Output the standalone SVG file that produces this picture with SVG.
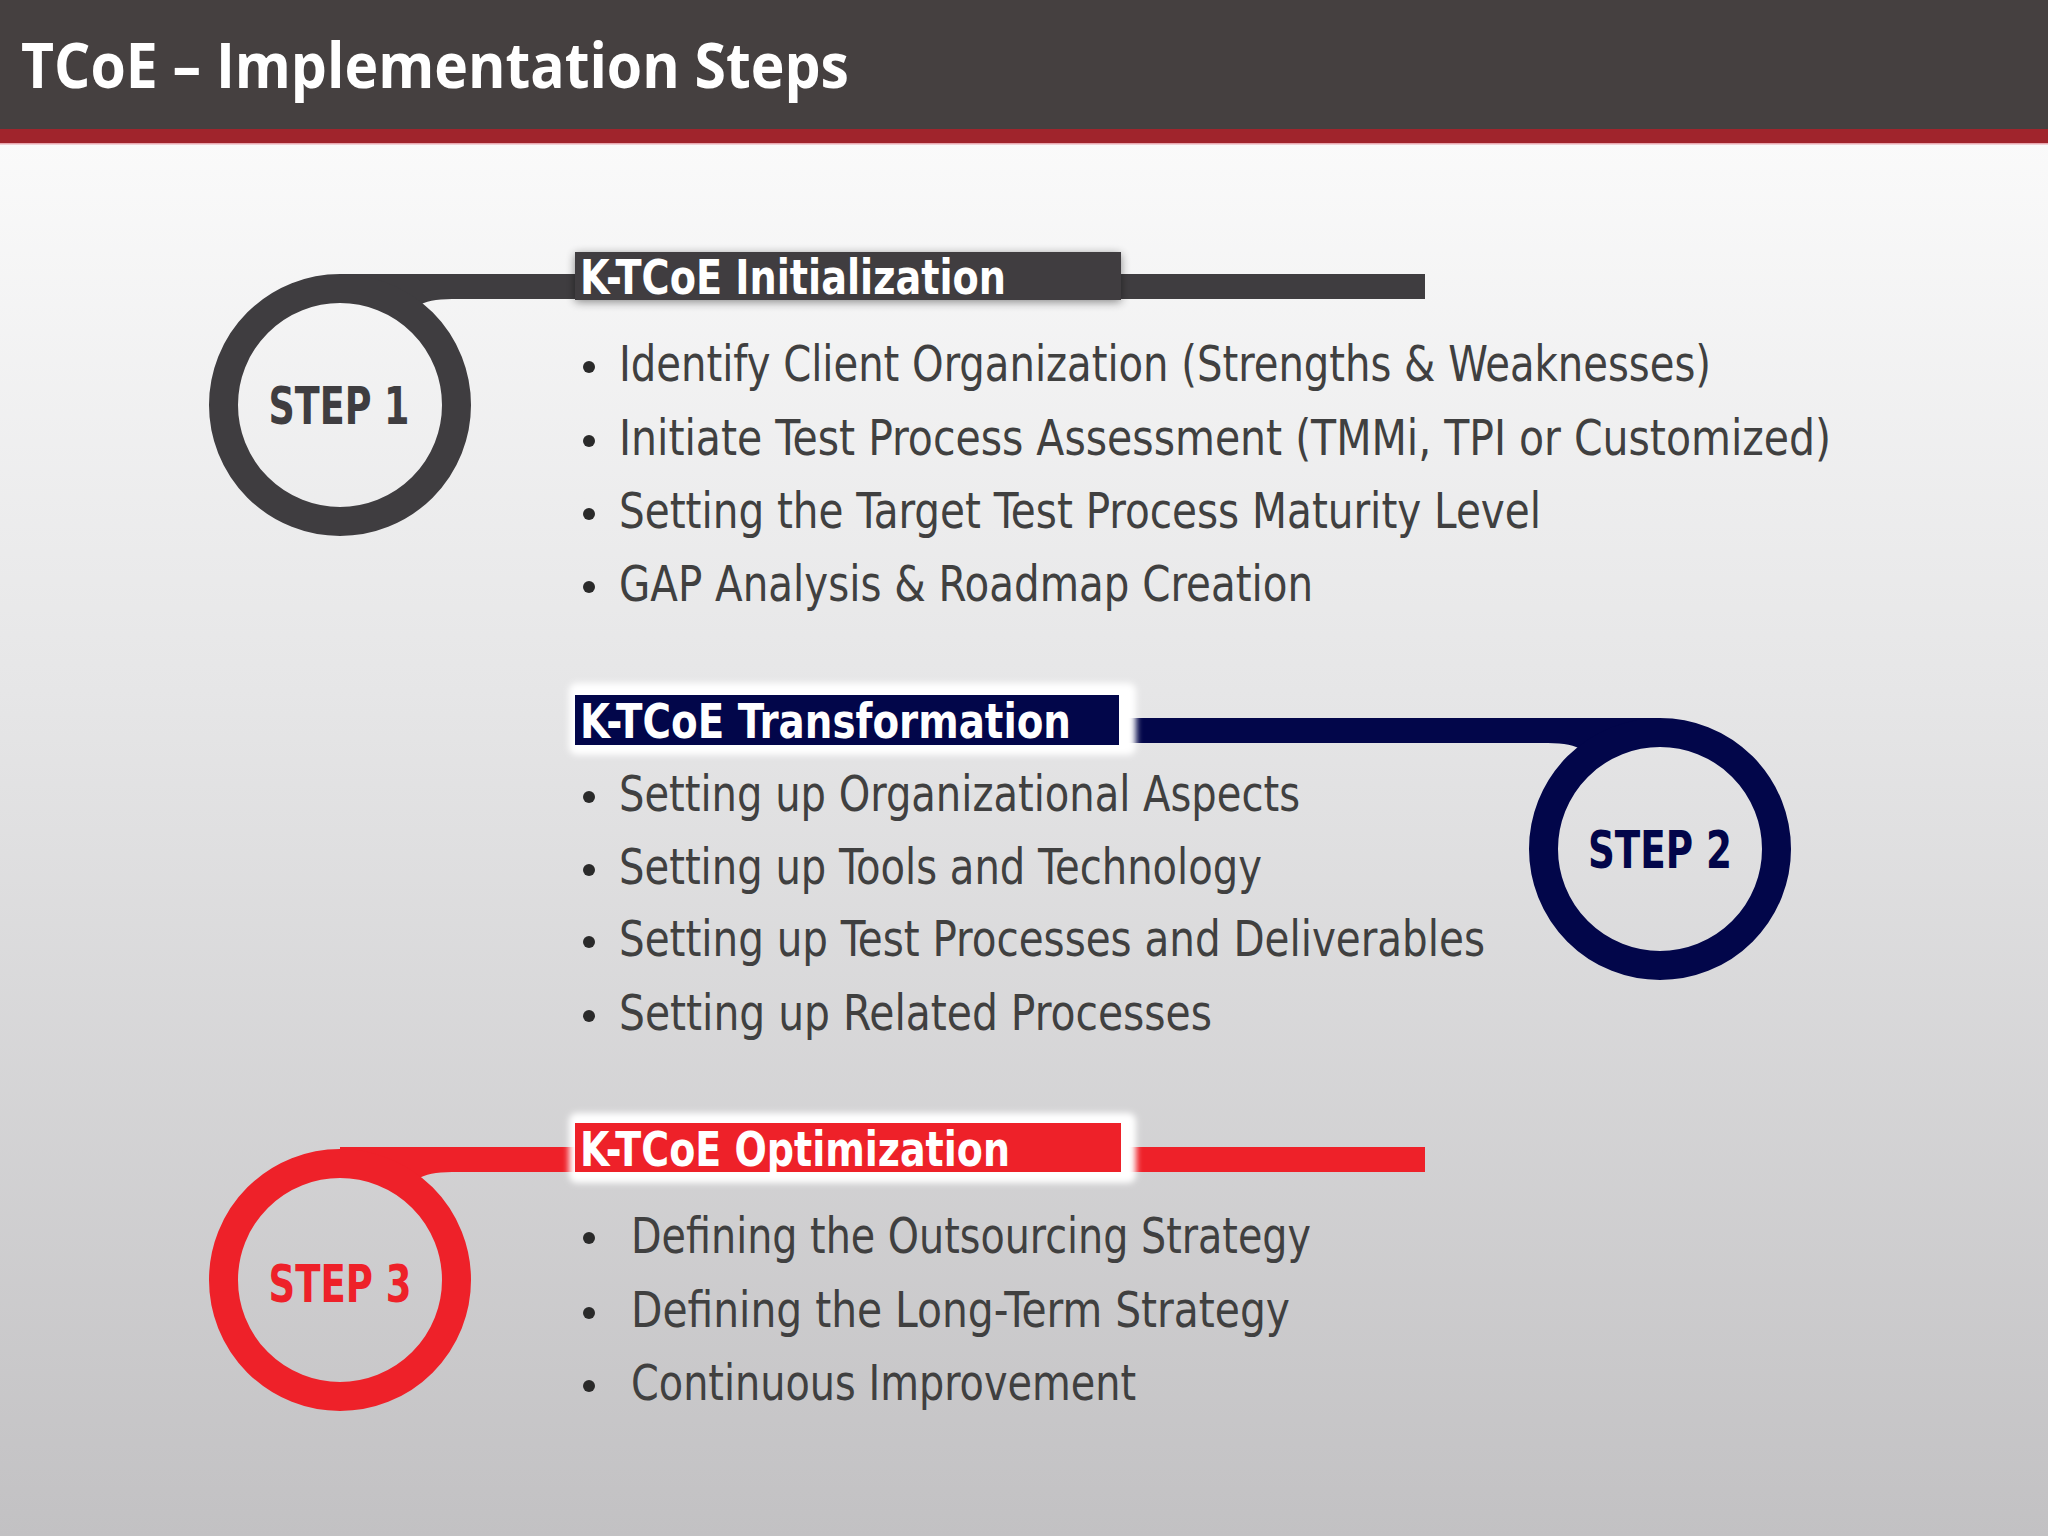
<svg xmlns="http://www.w3.org/2000/svg" width="2048" height="1536" viewBox="0 0 2048 1536">
<defs>
<linearGradient id="bg" x1="0" y1="0" x2="0" y2="1">
<stop offset="0" stop-color="#ffffff"/>
<stop offset="0.45" stop-color="#e6e6e7"/>
<stop offset="1" stop-color="#c2c1c3"/>
</linearGradient>
<filter id="sh" x="-10%" y="-40%" width="120%" height="180%">
<feGaussianBlur in="SourceAlpha" stdDeviation="5"/>
<feOffset dx="0" dy="2"/>
<feComponentTransfer><feFuncA type="linear" slope="0.45"/></feComponentTransfer>
<feMerge><feMergeNode/><feMergeNode in="SourceGraphic"/></feMerge>
</filter>
<filter id="glow" x="-10%" y="-40%" width="120%" height="180%">
<feGaussianBlur stdDeviation="3"/>
</filter>
</defs>
<style>
.title{font-family:"Open Sans","Liberation Sans",sans-serif;font-weight:bold;font-size:62px;fill:#ffffff}
.head{font-family:"DejaVu Sans Condensed","DejaVu Sans",sans-serif;font-weight:bold;font-size:48px;fill:#ffffff}
.step{font-family:"DejaVu Sans Condensed","DejaVu Sans",sans-serif;font-weight:bold;font-size:52px;text-anchor:middle}
.item{font-family:"DejaVu Sans Condensed","DejaVu Sans",sans-serif;font-size:50px;fill:#404040}
.dot{fill:#2a2a2a}
.ring{fill:none;stroke-width:29}
</style>
<rect x="0" y="0" width="2048" height="1536" fill="url(#bg)"/>
<g id="header">
<rect x="0" y="0" width="2048" height="130" fill="#454040"/>
<rect x="0" y="129" width="2048" height="14" fill="#a0242c"/>
<rect x="0" y="143" width="2048" height="1.5" fill="#e8a8b0"/>
<text class="title" x="21" y="88" textLength="828" lengthAdjust="spacingAndGlyphs">TCoE – Implementation Steps</text>
</g>
<g id="connectors">
<rect x="340" y="274" width="1085" height="25" fill="#3f3d40"/>
<path d="M412 299 L452 299 Q428 299 418 306 Z" fill="#3f3d40"/>
<rect x="1119" y="718" width="541" height="25" fill="#02064a"/>
<path d="M1588 743 L1548 743 Q1572 743 1582 750 Z" fill="#02064a"/>
<rect x="340" y="1147" width="1085" height="25" fill="#ee2129"/>
<path d="M412 1172 L452 1172 Q428 1172 418 1179 Z" fill="#ee2129"/>
</g>
<g id="step1">
<circle class="ring" cx="340" cy="405" r="116.5" stroke="#3f3d40"/>
<text class="step" x="339" y="424" fill="#3f3d40" textLength="141" lengthAdjust="spacingAndGlyphs">STEP 1</text>
</g>
<g id="head1">
<rect x="575" y="252" width="546" height="48" fill="#3f3d40" filter="url(#sh)"/>
<text class="head" x="580" y="294" textLength="426" lengthAdjust="spacingAndGlyphs">K-TCoE Initialization</text>
</g>
<g id="list1">
<circle class="dot" cx="589" cy="367" r="6"/>
<text class="item" x="619" y="381" textLength="1092" lengthAdjust="spacingAndGlyphs">Identify Client Organization (Strengths &amp; Weaknesses)</text>
<circle class="dot" cx="589" cy="441" r="6"/>
<text class="item" x="619" y="455" textLength="1212" lengthAdjust="spacingAndGlyphs">Initiate Test Process Assessment (TMMi, TPI or Customized)</text>
<circle class="dot" cx="589" cy="514" r="6"/>
<text class="item" x="619" y="528" textLength="922" lengthAdjust="spacingAndGlyphs">Setting the Target Test Process Maturity Level</text>
<circle class="dot" cx="589" cy="587" r="6"/>
<text class="item" x="619" y="601" textLength="694" lengthAdjust="spacingAndGlyphs">GAP Analysis &amp; Roadmap Creation</text>
</g>
<g id="step2">
<circle class="ring" cx="1660" cy="849" r="116.5" stroke="#02064a"/>
<text class="step" x="1660" y="868" fill="#02064a" textLength="144" lengthAdjust="spacingAndGlyphs">STEP 2</text>
</g>
<g id="head2">
<rect x="569" y="683" width="567" height="72" rx="8" fill="#ffffff" filter="url(#glow)"/>
<rect x="575" y="695" width="544" height="50" fill="#02064a"/>
<text class="head" x="580" y="738" textLength="491" lengthAdjust="spacingAndGlyphs">K-TCoE Transformation</text>
</g>
<g id="list2">
<circle class="dot" cx="589" cy="797" r="6"/>
<text class="item" x="619" y="811" textLength="681" lengthAdjust="spacingAndGlyphs">Setting up Organizational Aspects</text>
<circle class="dot" cx="589" cy="870" r="6"/>
<text class="item" x="619" y="884" textLength="643" lengthAdjust="spacingAndGlyphs">Setting up Tools and Technology</text>
<circle class="dot" cx="589" cy="942" r="6"/>
<text class="item" x="619" y="956" textLength="866" lengthAdjust="spacingAndGlyphs">Setting up Test Processes and Deliverables</text>
<circle class="dot" cx="589" cy="1016" r="6"/>
<text class="item" x="619" y="1030" textLength="593" lengthAdjust="spacingAndGlyphs">Setting up Related Processes</text>
</g>
<g id="step3">
<circle class="ring" cx="340" cy="1280" r="116.5" stroke="#ee2129"/>
<text class="step" x="340" y="1302" fill="#ee2129" textLength="143" lengthAdjust="spacingAndGlyphs">STEP 3</text>
</g>
<g id="head3">
<rect x="569" y="1113" width="567" height="70" rx="8" fill="#ffffff" filter="url(#glow)"/>
<rect x="575" y="1123" width="546" height="49" fill="#ee2129"/>
<text class="head" x="580" y="1166" textLength="430" lengthAdjust="spacingAndGlyphs">K-TCoE Optimization</text>
</g>
<g id="list3">
<circle class="dot" cx="589" cy="1238" r="6"/>
<text class="item" x="631" y="1253" textLength="680" lengthAdjust="spacingAndGlyphs">Defining the Outsourcing Strategy</text>
<circle class="dot" cx="589" cy="1313" r="6"/>
<text class="item" x="631" y="1327" textLength="659" lengthAdjust="spacingAndGlyphs">Defining the Long-Term Strategy</text>
<circle class="dot" cx="589" cy="1386" r="6"/>
<text class="item" x="631" y="1400" textLength="505" lengthAdjust="spacingAndGlyphs">Continuous Improvement</text>
</g>
</svg>
